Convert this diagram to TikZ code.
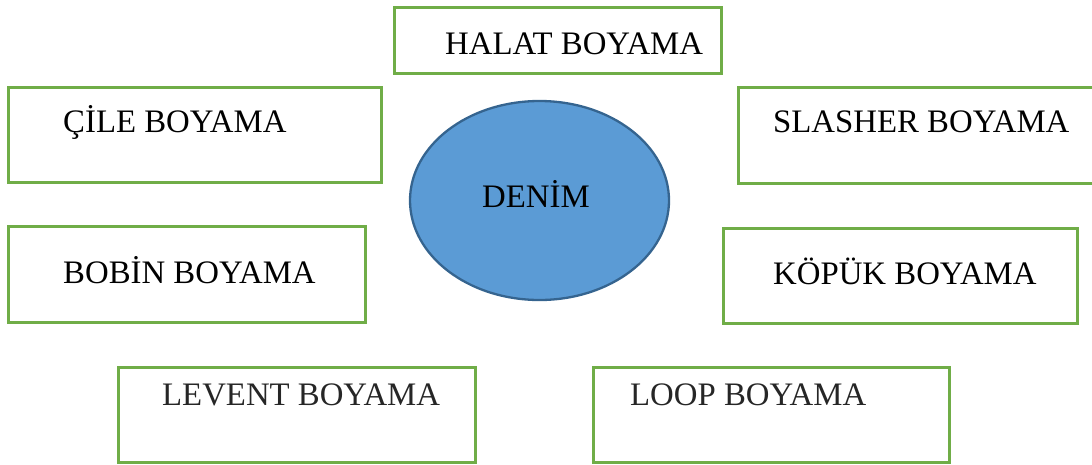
\documentclass[tikz,border=0pt]{standalone}
\usepackage{fontspec}
\setmainfont{Liberation Serif}
\usetikzlibrary{shapes.geometric}
\definecolor{boxgreen}{HTML}{70AD47}
\definecolor{ellfill}{HTML}{5B9BD5}
\definecolor{elldraw}{HTML}{35648F}
\tikzset{
  greenbox/.style={draw=boxgreen, line width=3pt, rectangle, inner sep=0pt, fill=white},
  boxtext/.style={anchor=base west, inner sep=0pt, font=\fontsize{32.8}{36}\selectfont},
}
\begin{document}
\begin{tikzpicture}[x=1pt,y=-1pt]
\useasboundingbox (0,0) rectangle (1092,464);
% boxes
\node[greenbox, minimum width=327pt, minimum height=66pt] (halat) at (557.5,40) {};
\node[greenbox, minimum width=373pt, minimum height=95pt] (cile) at (194.5,134.5) {};
\node[greenbox, minimum width=358pt, minimum height=96pt] (slasher) at (917,135) {};
\node[greenbox, minimum width=357pt, minimum height=96pt] (bobin) at (186.5,274) {};
\node[greenbox, minimum width=354pt, minimum height=95pt] (kopuk) at (900,275.5) {};
\node[greenbox, minimum width=357pt, minimum height=95pt] (levent) at (296.5,414.5) {};
\node[greenbox, minimum width=356pt, minimum height=95pt] (loop) at (771,414.5) {};
% ellipse
\node[ellipse, draw=elldraw, fill=ellfill, line width=2.3pt, inner sep=0pt,
      minimum width=259pt, minimum height=199pt] (denim) at (539.5,200.5) {};
% texts
\node[boxtext] (thalat) at (445,54) {HALAT BOYAMA};
\node[boxtext] (tcile) at (63,132) {ÇİLE BOYAMA};
\node[boxtext] (tslasher) at (773,132) {SLASHER BOYAMA};
\node[boxtext] (tbobin) at (63,283) {BOBİN BOYAMA};
\node[boxtext] (tkopuk) at (773,284) {KÖPÜK BOYAMA};
\node[boxtext, text=black!85] (tlevent) at (162,405) {LEVENT BOYAMA};
\node[boxtext, text=black!85] (tloop) at (630,405) {LOOP BOYAMA};
\node[boxtext] (tdenim) at (482,207) {DENİM};
\end{tikzpicture}
\end{document}
